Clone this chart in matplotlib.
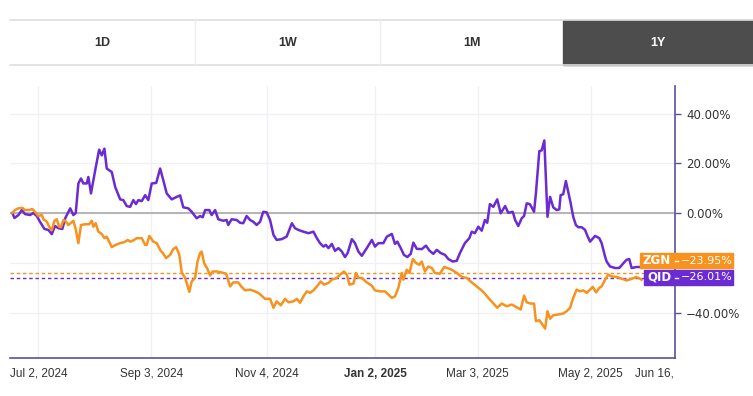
import matplotlib
matplotlib.use('Agg')  # no display
import matplotlib.pyplot as plt
from matplotlib.patches import Rectangle
from matplotlib.lines import Line2D
from matplotlib.ticker import FixedLocator, FuncFormatter
from matplotlib.transforms import Bbox, TransformedBbox

plt.rcParams['font.family'] = ['Liberation Sans', 'DejaVu Sans']

# trading session number (0 = start of the 1Y window) and % change
qid_day = [0.1, 0.9, 2.4, 3.7, 4.9, 6.8, 8.1, 9.4, 10.6, 12.3, 13.8, 15.1, 16.3, 17.6, 19.1,
           20.2, 22.1, 23.3, 24.2, 25.2, 26.2, 27.1, 28.4, 29.0, 30.0, 31.6, 33.1, 34.1, 35.1,
           36.0, 37.9, 39.2, 41.1, 42.3, 43.6, 44.9, 46.1, 47.1, 48.0, 49.3, 50.6, 51.8, 53.1,
           54.8, 56.3, 57.5, 58.8, 60.7, 62.6, 63.9, 65.1, 67.0, 68.3, 70.2, 71.5, 72.5, 73.4,
           75.0, 75.9, 77.2, 78.4, 80.3, 81.6, 82.2, 83.5, 85.4, 86.7, 87.9, 89.2, 90.5, 91.7,
           93.0, 94.3, 95.5, 96.8, 98.1, 99.4, 100.6, 102.5, 104.4, 106.4, 107.6, 108.9, 110.8,
           112.7, 114.6, 115.9, 117.1, 118.4, 119.3, 120.3, 121.6, 122.8, 124.1, 125.4, 126.6,
           127.6, 129.2, 130.4, 131.7, 133.0, 134.9, 136.8, 138.0, 139.3, 141.2, 142.5, 144.4,
           145.6, 146.5, 147.8, 149.0, 150.3, 151.6, 152.6, 153.9, 155.8, 157.4, 158.7, 160.2,
           161.5, 163.0, 164.6, 165.9, 167.6, 169.1, 170.3, 172.2, 173.9, 174.8, 176.0, 177.3,
           178.6, 179.8, 180.7, 181.7, 183.0, 184.5, 185.8, 187.5, 188.7, 190.4, 191.3, 192.5,
           193.8, 194.7, 195.7, 196.9, 198.5, 199.2, 200.5, 201.4, 202.4, 203.6, 204.6, 205.8,
           207.1, 208.1, 208.6, 209.6, 210.6, 211.5, 212.4, 213.4, 214.4, 215.3, 216.6, 217.9,
           218.8, 219.8, 221.7, 223.3, 224.2, 225.5, 226.1, 227.4, 229.3, 230.9, 232.7, 233.7,
           234.7, 235.6, 237.5, 239.4]
qid_pct = [0.0, -2.0, -0.8, 1.2, -0.4, -0.8, 0.0, -1.2, -3.5, -6.4, -6.8, -8.5, -5.2, -6.1, -6.4,
           -2.1, 1.9, -0.8, 0.0, 11.9, 13.9, 11.9, 11.9, 14.5, 7.9, 17.2, 25.5, 23.2, 25.9,
           17.9, 16.5, 10.5, 5.5, 5.2, 2.8, 2.5, 5.2, 3.6, 5.2, 4.8, 7.2, 5.2, 11.9,
           12.1, 17.9, 13.2, 7.9, 5.5, 6.5, 7.1, 2.3, 1.9, 0.5, -2.1, -1.2, -1.7, 1.2,
           1.2, -0.8, 1.2, -2.5, -3.1, -2.8, -4.8, -2.5, -2.8, -3.9, -4.1, -1.2, -2.8, -3.5,
           -4.8, -3.5, 0.5, 0.3, -2.8, -8.8, -10.8, -10.5, -9.5, -4.1, -6.1, -6.8, -7.5,
           -8.1, -7.5, -10.1, -12.1, -13.5, -12.8, -14.1, -12.4, -15.2, -14.1, -15.5, -17.7,
           -16.1, -10.5, -12.1, -15.5, -17.2, -14.1, -10.8, -13.5, -12.1, -12.1, -9.5, -8.4,
           -12.4, -11.5, -14.1, -16.8, -17.7, -16.4, -11.9, -14.4, -14.5, -13.1, -15.1, -16.4,
           -14.8, -16.1, -16.8, -18.5, -19.5, -19.2, -16.1, -12.1, -10.1, -7.5, -8.1, -5.5,
           -7.1, -2.8, -3.9, 3.6, 2.5, 5.5, -0.1, 2.8, 0.1, 0.5, -2.8, -5.2,
           -2.1, -1.2, 3.9, 3.6, 0.5, 7.9, 24.9, 25.2, 29.2, -1.5, 6.5, 2.3,
           1.2, 1.5, 7.2, 7.6, 12.9, 8.5, 4.1, -1.5, -4.8, -5.7, -5.7, -6.8,
           -9.2, -11.5, -9.2, -10.1, -12.1, -17.5, -19.5, -21.5, -22.1, -22.1, -19.9, -18.8,
           -18.5, -22.1, -21.7, -21.7]

zgn_day = [0.1, 1.1, 2.4, 3.9, 4.9, 6.5, 7.7, 8.7, 10.0, 11.3, 11.9, 13.2, 14.1, 15.1, 16.1,
           17.0, 17.9, 18.6, 19.5, 20.2, 21.4, 22.4, 23.3, 24.2, 25.2, 26.2, 27.8, 29.3, 30.3,
           30.9, 31.8, 32.8, 34.1, 35.1, 36.0, 37.9, 39.4, 41.1, 42.7, 44.0, 44.9, 46.1, 47.4,
           49.3, 50.6, 51.2, 52.2, 53.7, 55.0, 56.3, 57.5, 58.6, 60.1, 61.3, 62.4, 63.6, 64.5,
           65.8, 66.4, 67.4, 68.3, 69.6, 70.5, 71.5, 72.1, 73.0, 74.3, 75.3, 76.3, 77.8, 79.7,
           81.4, 82.9, 84.1, 86.0, 87.3, 88.6, 90.5, 92.4, 94.0, 96.2, 98.1, 99.4, 100.6, 102.2,
           103.8, 105.1, 107.0, 108.3, 109.5, 110.8, 112.1, 113.3, 114.6, 115.9, 117.4, 118.6,
           120.3, 121.6, 123.5, 124.7, 126.2, 127.3, 128.3, 129.8, 130.8, 131.7, 133.0, 134.9,
           136.8, 138.0, 139.9, 141.8, 143.1, 144.4, 145.6, 146.9, 148.2, 148.8, 150.1, 151.1,
           152.4, 153.6, 154.9, 155.8, 157.0, 158.3, 159.6, 160.8, 162.7, 164.3, 165.5, 167.2,
           169.1, 171.0, 172.9, 174.8, 176.7, 178.2, 179.5, 181.1, 182.8, 184.5, 186.2, 188.1,
           190.0, 191.6, 193.4, 194.7, 195.7, 197.2, 198.5, 199.2, 200.5, 201.4, 202.7, 203.6,
           204.6, 205.8, 207.7, 209.6, 210.9, 212.2, 213.4, 214.7, 216.0, 217.2, 218.5, 219.8,
           220.8, 222.1, 223.3, 224.2, 225.5, 226.7, 228.0, 229.9, 231.8, 233.7, 235.6, 237.3,
           238.8, 239.4]
zgn_pct = [0.1, 1.2, 1.9, 2.1, 1.2, 1.2, 1.6, 0.5, -1.2, -0.8, -2.5, -3.5, -5.5, -6.8, -3.1,
           -2.5, -5.5, -5.7, -2.8, -3.1, -4.8, -3.9, -3.1, -6.5, -12.1, -4.8, -4.5, -4.5, -3.1,
           -5.5, -4.1, -7.5, -8.4, -10.1, -9.5, -13.7, -12.8, -12.1, -11.7, -10.8, -11.5, -11.0, -10.1,
           -10.1, -12.8, -12.8, -9.2, -11.5, -12.1, -14.8, -16.4, -18.1, -16.8, -14.5, -13.7, -16.8, -23.9,
           -26.1, -28.1, -31.7, -27.5, -26.1, -19.5, -16.1, -15.5, -20.1, -22.5, -25.1, -23.5, -23.5, -23.9,
           -24.4, -29.5, -27.9, -27.9, -29.7, -31.1, -30.8, -31.5, -32.4, -34.5, -34.5, -38.1, -35.5, -37.1,
           -34.5, -35.9, -35.5, -34.5, -36.1, -33.5, -31.5, -32.1, -31.1, -29.5, -27.5, -28.8,
           -28.1, -26.8, -26.1, -24.8, -23.5, -24.8, -28.8, -28.4, -24.1, -26.1, -26.1, -27.9,
           -29.2, -31.1, -31.5, -31.5, -32.8, -34.1, -33.5, -30.1, -24.1, -26.8, -22.8, -24.1,
           -18.5, -20.1, -20.8, -19.5, -23.5, -21.5, -22.1, -24.1, -24.4, -21.7, -22.1, -22.8,
           -24.1, -25.7, -26.1, -27.9, -29.5, -30.8, -32.1, -34.1, -36.1, -38.1, -36.4, -37.5,
           -36.8, -37.7, -38.8, -33.2, -35.9, -36.4, -36.4, -43.5, -43.1, -44.4, -46.5, -39.5,
           -42.5, -41.1, -40.8, -40.4, -39.5, -38.1, -34.1, -30.8, -31.5, -31.1, -32.1, -30.8,
           -29.7, -31.9, -30.1, -29.5, -26.8, -24.8, -25.5, -25.7, -26.4, -27.1, -26.5, -25.7,
           -26.4, -26.8]

tick_days = [10, 53, 97, 138, 177, 220, 250]
tick_labels = ["Jul 2, 2024", "Sep 3, 2024", "Nov 4, 2024", "Jan 2, 2025",
               "Mar 3, 2025", "May 2, 2025", "Jun 16, 2025"]
y_ticks = [40, 20, 0, -20, -40]
tabs = ["1D", "1W", "1M", "1Y"]
zgn_last = -23.95
qid_last = -26.01

PURPLE = '#6a2bd3'
ORANGE = '#f7921e'
AXIS = '#5c4f9e'

W, H = 753, 396
fig = plt.figure(figsize=(W / 100, H / 100), dpi=100)


def fx(px):
    return px / W


def fy(py):
    return 1 - py / H


def pct(v):
    return f"{v:.2f}%".replace('-', '\u2212')


# --- range selector bar ---
edges = [10, 195, 380, 563, 753]
fig.patches.append(Rectangle((fx(edges[3]), fy(65)), fx(edges[4] - edges[3]), 45 / H,
                             transform=fig.transFigure, color='#4d4d4d', zorder=1))
for yy in (20, 65):
    fig.add_artist(Line2D([fx(10), 1], [fy(yy), fy(yy)], color='#dedede', lw=1.2))
for xx in edges[1:3]:
    fig.add_artist(Line2D([fx(xx), fx(xx)], [fy(20), fy(65)], color='#eeeeee', lw=1))
for i, t in enumerate(tabs):
    cx = (edges[i] + edges[i + 1]) / 2
    fig.text(fx(cx), fy(43), t, ha='center', va='center', fontsize=9, fontweight='bold',
             color='white' if t == '1Y' else '#333333')

# --- chart ---
ax = fig.add_axes([fx(10), 38 / H, 665 / W, 272 / H])
ax.set_xlim(-0.8, 252.1)
ax.set_ylim(-58.3, 51.1)

ax.xaxis.set_major_locator(FixedLocator(tick_days))
ax.set_xticklabels(tick_labels)
ax.yaxis.set_major_locator(FixedLocator(y_ticks))
# the -20% label sits under the last-value badges, so it is left blank
ax.yaxis.set_major_formatter(FuncFormatter(lambda v, p: '' if v == -20 else pct(v)))
ax.yaxis.tick_right()
ax.grid(True, color='#f0f0f6', lw=1)
ax.set_axisbelow(True)
ax.get_xgridlines()[-1].set_visible(False)

ax.axhline(0, color='#aaaaaa', lw=1.2, zorder=1)
ax.axhline(zgn_last, color=ORANGE, lw=1, ls=(0, (2.5, 2)), zorder=2)
ax.axhline(qid_last, color=PURPLE, lw=1, ls=(0, (2.5, 2)), zorder=2)

ax.plot(qid_day, qid_pct, color=PURPLE, lw=1.8, zorder=3, solid_joinstyle='round')
ax.plot(zgn_day, zgn_pct, color=ORANGE, lw=1.8, zorder=4, solid_joinstyle='round')

for s in ('left', 'top'):
    ax.spines[s].set_visible(False)
for s in ('bottom', 'right'):
    ax.spines[s].set_color(AXIS)
    ax.spines[s].set_linewidth(1.2)

ax.tick_params(axis='y', length=4, width=1, color=AXIS, pad=4, labelsize=8.5, labelcolor='#333333')
ax.tick_params(axis='x', length=0, pad=7, labelsize=8.5, labelcolor='#333333')
for lbl in ax.get_yticklabels():
    lbl.set_family('DejaVu Sans')

clip = TransformedBbox(Bbox([[0, 0], [675 / W, 1]]), fig.transFigure)
for lbl in ax.get_xticklabels():
    if lbl.get_text().startswith('Jan'):
        lbl.set_fontweight('bold')
    if lbl.get_text().startswith('Jun'):
        lbl.set_clip_box(clip)
        lbl.set_clip_on(True)

# --- last value badges ---
for name, val, color, x0, y0, y1 in (("ZGN", zgn_last, ORANGE, 640, 253, 268),
                                       ("QID", qid_last, PURPLE, 644, 270, 285)):
    fig.patches.append(Rectangle((fx(x0), fy(y1)), fx(733 - x0), (y1 - y0) / H,
                                 transform=fig.transFigure, color=color, zorder=5))
    yc = (y0 + y1) / 2
    fig.add_artist(Line2D([fx(675), fx(678)], [fy(yc), fy(yc)], color='white', lw=1, zorder=6))
    fig.text(fx((x0 + 674) / 2), fy(yc), name, ha='center', va='center', fontsize=8.5,
             color='white', fontweight='bold', zorder=6, family='DejaVu Sans')
    fig.text(fx(681), fy(yc), pct(val), ha='left', va='center',
             fontsize=8, color='white', zorder=6, family='DejaVu Sans')

plt.savefig('out.png', dpi=100)
plt.close()
